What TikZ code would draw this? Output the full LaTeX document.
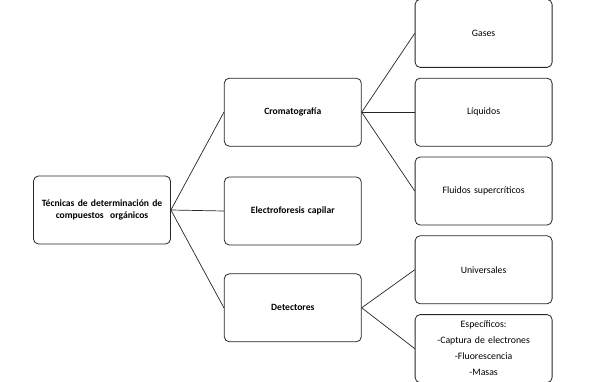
\documentclass[tikz,border=0pt]{standalone}
\usepackage{fontspec}
\setmainfont{Carlito}
\usetikzlibrary{positioning}

\begin{document}
\begin{tikzpicture}[x=1pt, y=1pt,
  box/.style={draw=black!85, line width=0.8pt, rounded corners=5pt, align=center,
              font=\fontsize{9.8}{12}\selectfont, inner sep=3pt,
              minimum width=137pt, minimum height=68pt, text width=130pt},
  head/.style={box, font=\fontsize{9.6}{12}\selectfont\bfseries},
  listbox/.style={box, font=\fontsize{9.8}{16}\selectfont},
  link/.style={draw=black!85, line width=0.7pt}]
  \useasboundingbox (0,0) rectangle (591,-382);
  \node[head] (root) at (102,-210) {T\'ecnicas de determinaci\'on de\\compuestos~ org\'anicos};
  \node[head, right=53pt of root, yshift=-1pt] (elec) {Electroforesis capilar};
  \node[head, above=30pt of elec] (crom) {Cromatograf\'ia};
  \node[head, below=28pt of elec] (det) {Detectores};
  % right column
  \node[box, right=53pt of crom] (liq) {L\'iquidos};
  \node[box, above=10pt of liq] (gas) {Gases};
  \node[box, below=10pt of liq] (flu) {Fluidos supercr\'iticos};
  \node[box, below=10pt of flu] (uni) {Universales};
  \node[listbox, below=10pt of uni] (esp) {Espec\'ificos:\\-Captura de electrones\\-Fluorescencia\\-Masas};
  \foreach \t in {crom,elec,det} \draw[link] (root.east) -- (\t.west);
  \foreach \t in {gas,liq,flu} \draw[link] (crom.east) -- (\t.west);
  \foreach \t in {uni,esp} \draw[link] (det.east) -- (\t.west);
\end{tikzpicture}
\end{document}
